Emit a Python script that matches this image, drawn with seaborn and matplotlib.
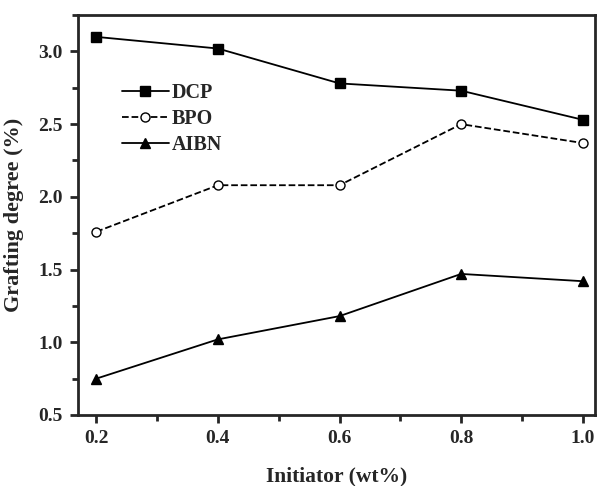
import matplotlib
matplotlib.use("Agg")
import matplotlib.pyplot as plt
import pandas as pd
import seaborn as sns
from matplotlib.ticker import MultipleLocator

# dados
initiator = [0.2, 0.4, 0.6, 0.8, 1.0]
dcp = [3.10, 3.02, 2.78, 2.73, 2.53]
bpo = [1.76, 2.08, 2.08, 2.50, 2.37]
aibn = [0.75, 1.02, 1.18, 1.47, 1.42]
series_names = ["DCP", "BPO", "AIBN"]

df = pd.DataFrame({"x": initiator * 3,
                   "y": dcp + bpo + aibn,
                   "series": sum([[n] * len(initiator) for n in series_names], [])})

sns.set_style("ticks")
plt.rcParams['font.family'] = ['Liberation Serif', 'DejaVu Serif']
plt.rcParams['font.weight'] = 'bold'

fig = plt.figure(figsize=(5.97, 4.86), dpi=100)
ax = fig.add_axes([0.1307, 0.1461, 0.8659, 0.8229])

styles = {"DCP": dict(marker="s", ls="-", mfc="black"),
          "BPO": dict(marker="o", ls="--", mfc="white"),
          "AIBN": dict(marker="^", ls="-", mfc="black")}

for name in series_names:
    st = styles[name]
    sns.lineplot(data=df[df["series"] == name], x="x", y="y", ax=ax,
                 color="black", linestyle=st["ls"], marker=st["marker"],
                 markersize=6.5, markerfacecolor=st["mfc"], markeredgecolor="black",
                 markeredgewidth=1, linewidth=1.3, label=name)

ax.set_xlim(0.17, 1.02)
ax.set_ylim(0.5, 3.25)
ax.xaxis.set_major_locator(MultipleLocator(0.2))
ax.xaxis.set_minor_locator(MultipleLocator(0.1))
ax.yaxis.set_major_locator(MultipleLocator(0.5))
ax.yaxis.set_minor_locator(MultipleLocator(0.25))
ax.set_xticks([0.2, 0.4, 0.6, 0.8, 1.0])
ax.set_xticklabels(["0.2", "0.4", "0.6", "0.8", "1.0"])

for sp in ax.spines.values():
    sp.set_linewidth(2)
ax.tick_params(which="major", direction="out", length=6, width=2, labelsize=14, pad=5)
ax.tick_params(which="minor", direction="out", length=4, width=2)

ax.set_xlabel("Initiator (wt%)", fontsize=15.5, fontweight="bold", labelpad=14)
ax.set_ylabel("Grafting degree (%)", fontsize=16, fontweight="bold", labelpad=10)

leg = ax.legend(loc="upper left", bbox_to_anchor=(0.07, 0.85), frameon=False,
                handlelength=2.3, handletextpad=0.15, labelspacing=0.3,
                prop={"family": "Liberation Serif", "weight": "bold", "size": 14.5},
                borderaxespad=0)

fig.savefig("out.png", dpi=100)
